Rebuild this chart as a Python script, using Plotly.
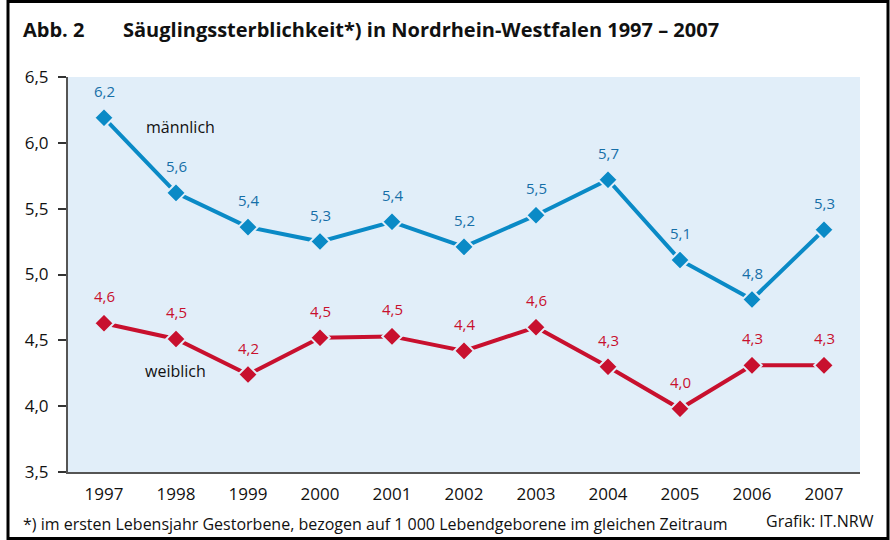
import plotly.graph_objects as go

years = [1997, 1998, 1999, 2000, 2001, 2002, 2003, 2004, 2005, 2006, 2007]
maennlich = [6.19, 5.62, 5.36, 5.25, 5.40, 5.21, 5.45, 5.72, 5.11, 4.81, 5.34]
weiblich = [4.63, 4.51, 4.24, 4.52, 4.53, 4.42, 4.60, 4.30, 3.98, 4.31, 4.31]
maennlich_labels = ["6,2", "5,6", "5,4", "5,3", "5,4", "5,2", "5,5", "5,7", "5,1", "4,8", "5,3"]
weiblich_labels = ["4,6", "4,5", "4,2", "4,5", "4,5", "4,4", "4,6", "4,3", "4,0", "4,3", "4,3"]
y_ticks = [3.5, 4.0, 4.5, 5.0, 5.5, 6.0, 6.5]

BLUE = "#0a8ac6"
BLUE_TXT = "#166fa8"
RED = "#c8102e"
BG = "#e1eef9"
FONT = "Open Sans"

W, H = 890, 540
L, R, T, B = 68, 30, 77, 68
pw, ph = W - L - R, H - T - B

def px(x):
    return (x - L) / pw

def py(y):
    return (H - B - y) / ph

fig = go.Figure()
fig.add_trace(go.Scatter(x=years, y=maennlich, mode="lines+markers",
                         line=dict(color=BLUE, width=4),
                         marker=dict(symbol="diamond", size=15, color=BLUE,
                                     line=dict(color=BG, width=2)),
                         cliponaxis=False, hoverinfo="skip"))
fig.add_trace(go.Scatter(x=years, y=weiblich, mode="lines+markers",
                         line=dict(color=RED, width=4),
                         marker=dict(symbol="diamond", size=15, color=RED,
                                     line=dict(color=BG, width=2)),
                         cliponaxis=False, hoverinfo="skip"))

ann = []
for x, y, t in zip(years, maennlich, maennlich_labels):
    ann.append(dict(x=x, y=y, text=t, showarrow=False, yshift=27,
                    xanchor="center", yanchor="middle",
                    font=dict(family=FONT, size=15, color=BLUE_TXT)))
for x, y, t in zip(years, weiblich, weiblich_labels):
    ann.append(dict(x=x, y=y, text=t, showarrow=False, yshift=27,
                    xanchor="center", yanchor="middle",
                    font=dict(family=FONT, size=15, color=RED)))

def txt(x, y, text, size, xanchor="center", bold=False):
    return dict(xref="paper", yref="paper", x=px(x), y=py(y),
                xanchor=xanchor, yanchor="middle", showarrow=False,
                text=f"<b>{text}</b>" if bold else text,
                font=dict(family=FONT, size=size, color="#111"))

ann += [
    txt(180, 127, "männlich", 16),
    txt(175, 371, "weiblich", 16),
    txt(21, 29, "Abb. 2", 20, "left", True),
    txt(121, 29, "Säuglingssterblichkeit*) in Nordrhein-Westfalen 1997 – 2007", 20, "left", True),
    txt(21, 524, "*) im ersten Lebensjahr Gestorbene, bezogen auf 1 000 Lebendgeborene im gleichen Zeitraum", 16, "left"),
    txt(876, 521, "Grafik: IT.NRW", 16, "right"),
]

shapes = [
    dict(type="rect", xref="paper", yref="paper", x0=px(8), x1=px(888),
         y0=py(538.5), y1=py(1.5), line=dict(color="#000", width=3),
         fillcolor="rgba(0,0,0,0)", layer="above"),
]

fig.update_layout(
    width=W, height=H,
    margin=dict(l=L, r=R, t=T, b=B),
    paper_bgcolor="white", plot_bgcolor=BG,
    showlegend=False, separators=",.",
    annotations=ann, shapes=shapes,
    font=dict(family=FONT, color="#111"),
    xaxis=dict(range=[1996.5, 2007.5], tickvals=years, ticktext=[str(y) for y in years],
               showgrid=False, zeroline=False, showline=True, linecolor="#555",
               linewidth=2, ticks="", tickfont=dict(size=17, family=FONT, color="#111"),
               ticklabelstandoff=6, fixedrange=True),
    yaxis=dict(range=[3.5, 6.5], tickvals=y_ticks, tickformat=".1f",
               showgrid=False, zeroline=False, showline=True, linecolor="#555",
               linewidth=2, ticks="outside", ticklen=8, tickwidth=1.5, tickcolor="#333",
               tickfont=dict(size=17, family=FONT, color="#111"),
               ticklabelstandoff=6, fixedrange=True),
)

fig.write_html("out.html", config={"displayModeBar": False},
               post_script="document.body.style.margin='0';document.body.style.overflow='hidden';")
